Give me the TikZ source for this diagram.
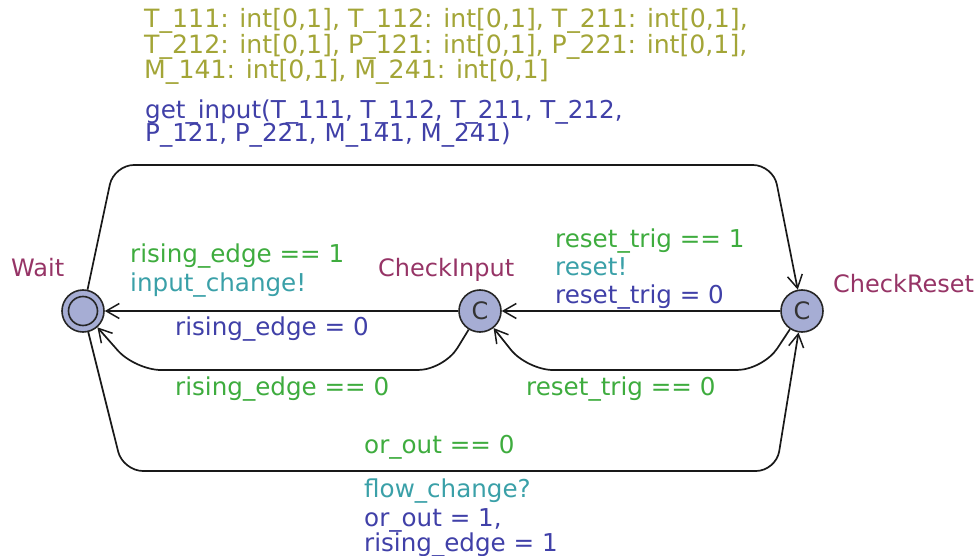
\documentclass[tikz,border=0pt]{standalone}
\usepackage{fontspec}
\setmainfont{DejaVu Sans}
\usetikzlibrary{arrows.meta}

\definecolor{declcol}{RGB}{163,165,55}
\definecolor{updcol}{RGB}{64,64,168}
\definecolor{guardcol}{RGB}{62,172,62}
\definecolor{synccol}{RGB}{58,160,168}
\definecolor{namecol}{RGB}{150,52,102}
\definecolor{locfill}{RGB}{166,173,212}

\begin{document}
\begin{tikzpicture}[x=1pt,y=-1pt,
  loc/.style={circle,draw=black!85,line width=1.6pt,fill=locfill,
    minimum size=42pt,inner sep=0pt,text=black!80,
    font=\fontsize{24}{24}\selectfont},
  edge/.style={draw=black!90,line width=1.7pt,rounded corners=20pt,
    -{Straight Barb[length=13pt,width=15pt,line width=1.5pt]}},
  lbl/.style={anchor=base west,inner sep=0pt,font=\fontsize{24.6}{26}\selectfont},
  decl/.style={lbl,text=declcol,font=\fontsize{25.2}{26}\selectfont},
  upd/.style={lbl,text=updcol},
  guard/.style={lbl,text=guardcol},
  sync/.style={lbl,text=synccol},
  lname/.style={lbl,text=namecol,font=\fontsize{24}{26}\selectfont}]

\useasboundingbox (0,0) rectangle (978,556);

% parameters and function call
\node[decl] (d1) at (144,28) {T\_111: int[0,1], T\_112: int[0,1], T\_211: int[0,1],};
\node[decl] (d2) at (144,54) {T\_212: int[0,1], P\_121: int[0,1], P\_221: int[0,1],};
\node[decl] (d3) at (144,79) {M\_141: int[0,1], M\_241: int[0,1]};
\node[upd] (f1) at (145,119) {get\_input(T\_111, T\_112, T\_211, T\_212,};
\node[upd] (f2) at (145,142) {P\_121, P\_221, M\_141, M\_241)};

% locations
\node[loc] (wait) at (83,311) {};
\draw[line width=1.6pt,draw=black!85] (wait.center) circle[radius=14.5pt];
\node[loc] (cinput) at (480,311) {C};
\node[loc] (creset) at (802,311) {C};

\node[lname] (nwait) at (11,277) {Wait};
\node[lname] (ncinput) at (378,277) {CheckInput};
\node[lname] (ncreset) at (833,293) {CheckReset};

% transitions
\draw[edge] (wait) -- (114,165) -- (773,165) -- (creset);
\draw[edge] (creset) -- (cinput);
\draw[edge] (cinput) -- (wait);
\draw[edge,rounded corners=26pt] (cinput) -- (444,370) -- (135,370) -- (wait);
\draw[edge,rounded corners=26pt] (creset) -- (763,370) -- (527,370) -- (cinput);
\draw[edge] (wait) -- (123,471) -- (776,471) -- (creset);

% transition labels
\node[guard] (g1) at (130,263) {rising\_edge == 1};
\node[sync] (s1) at (130,291) {input\_change!};
\node[upd] (u1) at (175,335) {rising\_edge = 0};
\node[guard] (g2) at (175,395) {rising\_edge == 0};

\node[guard] (g3) at (555,248) {reset\_trig == 1};
\node[sync] (s3) at (555,276) {reset!};
\node[upd] (u3) at (555,304) {reset\_trig = 0};
\node[guard] (g4) at (526,395) {reset\_trig == 0};

\node[guard] (g5) at (364,453) {or\_out == 0};
\node[sync] (s5) at (364,497) {flow\_change?};
\node[upd] (u5a) at (364,526) {or\_out = 1,};
\node[upd] (u5b) at (364,551) {rising\_edge = 1};
\end{tikzpicture}
\end{document}
